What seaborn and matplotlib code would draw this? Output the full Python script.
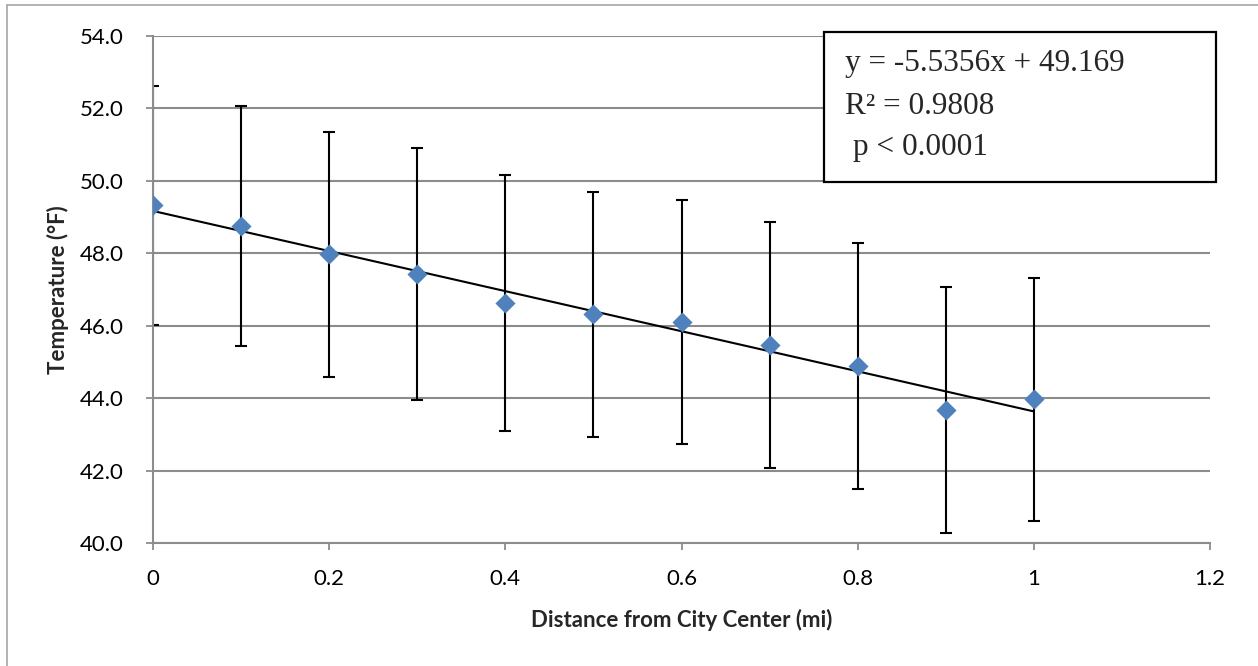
import numpy as np
import pandas as pd
import seaborn as sns
import matplotlib
matplotlib.use("Agg")
import matplotlib.pyplot as plt
from matplotlib.lines import Line2D
from matplotlib.patches import Rectangle

# ---- data ----
distance = [0.0, 0.1, 0.2, 0.3, 0.4, 0.5, 0.6, 0.7, 0.8, 0.9, 1.0]
temperature = [49.33, 48.75, 47.97, 47.43, 46.62, 46.31, 46.10, 45.47, 44.88, 43.68, 43.97]
temp_err = [3.30, 3.32, 3.38, 3.48, 3.54, 3.39, 3.38, 3.39, 3.40, 3.40, 3.36]
slope = -5.5356
intercept = 49.169
x_ticks = [0, 0.2, 0.4, 0.6, 0.8, 1.0, 1.2]
x_tick_labels = ["0", "0.2", "0.4", "0.6", "0.8", "1", "1.2"]
y_ticks = [40, 42, 44, 46, 48, 50, 52, 54]
eq_lines = ["y = -5.5356x + 49.169", "R\u00b2 = 0.9808", " p < 0.0001"]
x_label = "Distance from City Center (mi)"
y_label = "Temperature (\u00b0F)"

df = pd.DataFrame({"distance": distance, "temperature": temperature, "err": temp_err})
fit_x = np.array([min(distance), max(distance)])
fit_df = pd.DataFrame({"distance": fit_x, "fit": slope * fit_x + intercept})

sns.set_theme(style="white")
plt.rcParams["font.family"] = ["Lato", "DejaVu Sans"]

fig = plt.figure(figsize=(12.58, 6.66), dpi=100)
ax = fig.add_axes([153 / 1258, 1 - 543 / 666, (1210 - 153) / 1258, (543 - 36) / 666])

grid_col = "#8c8c8c"
for yv in y_ticks:
    ax.axhline(yv, color=grid_col, lw=1.5, zorder=0)

ax.errorbar(df["distance"], df["temperature"], yerr=df["err"], fmt="none",
            ecolor="black", elinewidth=1.5, capsize=4.3, capthick=1.5, zorder=2)
sns.lineplot(data=fit_df, x="distance", y="fit", color="black", lw=1.5, ax=ax, zorder=3)
sns.scatterplot(data=df, x="distance", y="temperature", marker="D", s=105,
                color="#4F81BD", edgecolor="#4F81BD", linewidth=0, ax=ax, zorder=4)

ax.set_xlim(0, 1.2)
ax.set_ylim(40, 54)
ax.set_xticks(x_ticks)
ax.set_xticklabels(x_tick_labels)
ax.set_yticks(y_ticks)
ax.set_yticklabels([f"{v:.1f}" for v in y_ticks])
ax.tick_params(axis="both", labelsize=16, colors="black", length=5, width=1.3,
               direction="out", left=True, bottom=True)
ax.tick_params(axis="x", pad=14, color=grid_col)
ax.tick_params(axis="y", pad=16, color=grid_col)

for s in ["top", "right"]:
    ax.spines[s].set_visible(False)
for s in ["left", "bottom"]:
    ax.spines[s].set_color(grid_col)
    ax.spines[s].set_linewidth(1.5)

ax.set_xlabel(x_label, fontsize=16, fontweight="bold", labelpad=14)
ax.set_ylabel(y_label, fontsize=16, fontweight="bold", labelpad=8)

# equation box
box = Rectangle((824 / 1258, 1 - 182 / 666), (1216 - 824) / 1258, (182 - 32) / 666,
                transform=fig.transFigure, facecolor="white", edgecolor="black",
                lw=1.6, zorder=10)
fig.patches.append(box)
for i, line in enumerate(eq_lines):
    fig.text(845 / 1258, 1 - (64 + i * 42) / 666, line, fontsize=22.5,
             family=["Liberation Serif", "DejaVu Serif"], va="center", ha="left",
             zorder=11)

# outer chart border (left and top visible)
fig.add_artist(Line2D([7 / 1258, 7 / 1258], [0, 1 - 5 / 666], transform=fig.transFigure,
                      color="#a6a6a6", lw=1.2))
fig.add_artist(Line2D([7 / 1258, 1], [1 - 5 / 666, 1 - 5 / 666], transform=fig.transFigure,
                      color="#a6a6a6", lw=1.2))

fig.savefig("out.png", dpi=100)
